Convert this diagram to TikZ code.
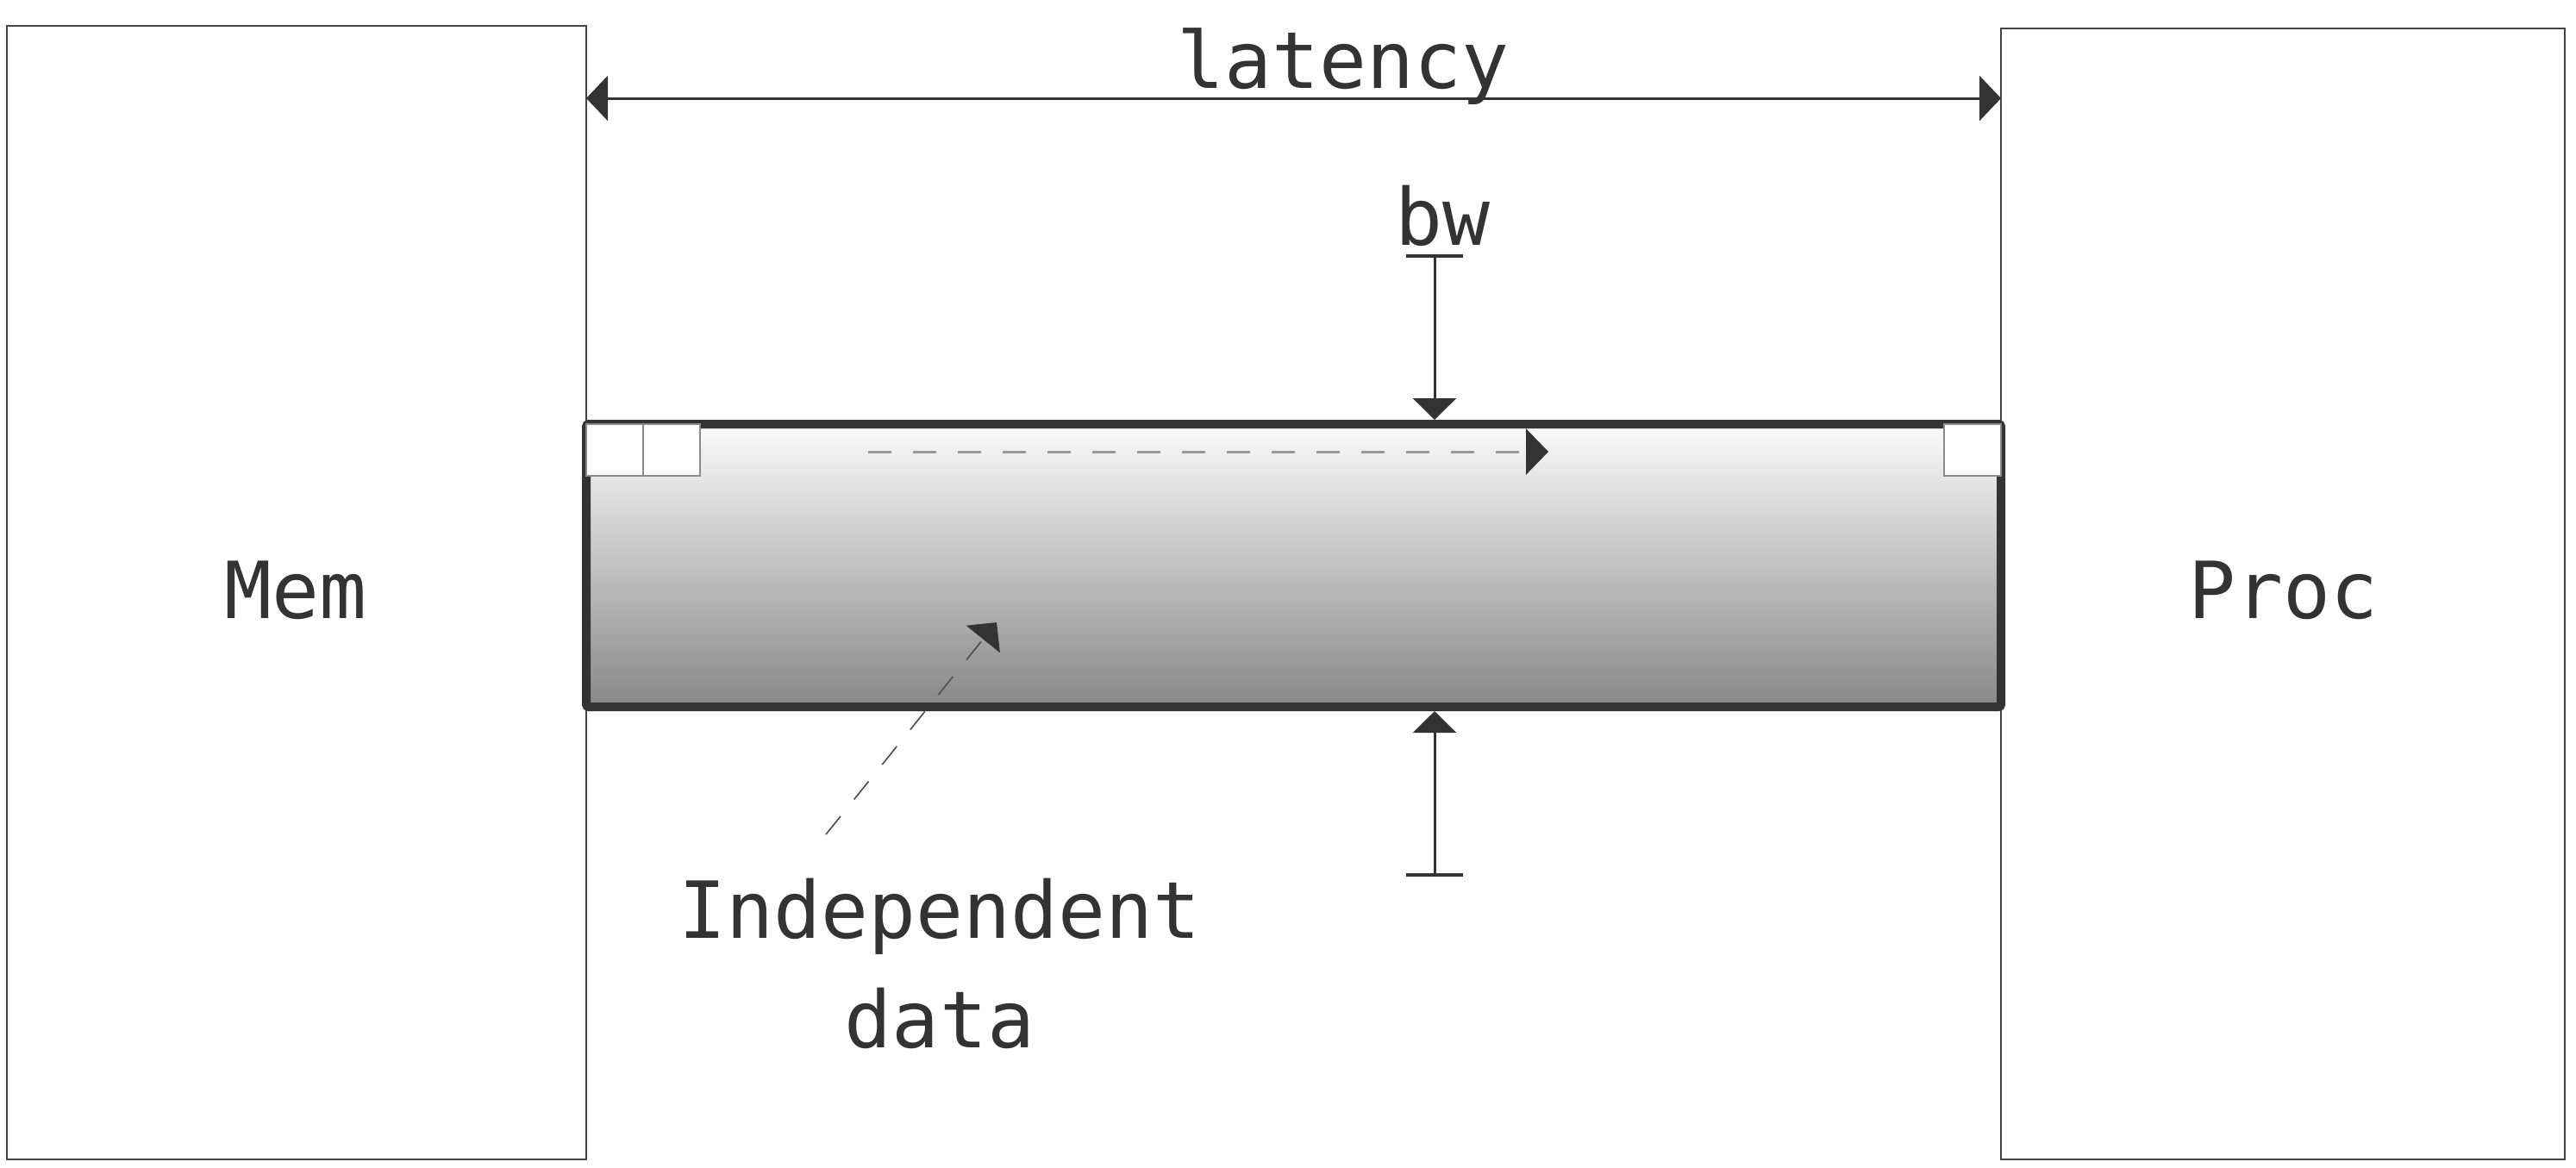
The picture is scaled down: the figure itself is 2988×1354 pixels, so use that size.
\documentclass[tikz,border=0pt]{standalone}
\usepackage{fontspec}
\setmonofont{DejaVu Sans Mono}
\usetikzlibrary{arrows.meta}
\definecolor{ink}{HTML}{333333}
\definecolor{boxline}{HTML}{444444}
\definecolor{cellline}{HTML}{8A8A8A}
\definecolor{dashgray}{HTML}{999999}
\definecolor{bandtop}{HTML}{FBFBFB}
\definecolor{bandbot}{HTML}{888888}
\tikzset{
  unitbox/.style={draw=boxline, line width=0.28mm, fill=white, inner sep=0pt, outer sep=0pt},
  cellbox/.style={draw=cellline, line width=0.22mm, fill=white, inner sep=0pt, outer sep=0pt,
    minimum width=6.6mm, minimum height=6.0mm},
  lbl/.style={text=ink, font=\ttfamily\fontsize{26}{31}\selectfont, inner sep=0pt, anchor=base},
  headtri/.tip={Triangle[length=2.5mm, width=5mm, color=ink]},
  capbar/.tip={Bar[width=6.6mm, color=ink, line width=0.4mm]},
  dimline/.style={draw=ink, line width=0.3mm},
}
\begin{document}
\begin{tikzpicture}[x=0.1mm, y=-0.1mm]
\useasboundingbox (0,0) rectangle (2988,1354);
% boxes
\node[unitbox, minimum width=67.2mm, minimum height=131.5mm] (mem) at (344,687.5) {};
\node[unitbox, minimum width=65.4mm, minimum height=131.2mm] (proc) at (2648,689) {};
\node[lbl] (memtext) at (343,717) {Mem};
\node[lbl] (proctext) at (2648,717) {Proc};
% band
\node[draw=ink, line width=1mm, rounded corners=0.3mm, top color=bandtop, bottom color=bandbot,
  minimum width=164.1mm, minimum height=32.8mm, inner sep=0pt] (band) at (1500.5,656) {};
\node[cellbox] (cell1) at (713,522) {};
\node[cellbox] (cell2) at (779,522) {};
\node[cellbox] (cell3) at (2288,522) {};
% latency
\coordinate (laty) at (0,114);
\draw[dimline, {Triangle[length=2.5mm, width=5.2mm]}-{Triangle[length=2.5mm, width=5.2mm]}]
  (mem.east |- laty) -- (proc.west |- laty);
\node[lbl] (lattext) at (1558,102) {latency};
% bw
\node[lbl] (bwtext) at (1673,284) {bw};
\coordinate (bwa) at (1664,295);
\coordinate (bwb) at (1664,1017);
\draw[dimline, capbar-headtri] (bwa) -- (band.north -| bwa);
\draw[dimline, capbar-headtri] (bwb) -- (band.south -| bwb);
% flow arrow
\coordinate (flowa) at (1007,524);
\coordinate (flowb) at (1796,524);
\draw[draw=dashgray, line width=0.3mm, dash pattern=on 2.7mm off 2.5mm, -{Triangle[length=2.6mm, width=5.3mm, color=ink]}]
  (flowa) -- (flowb);
% independent data
\node[lbl] (indep1) at (1090,1088) {Independent};
\node[lbl] (indep2) at (1090,1215) {data};
\coordinate (diaga) at (958,968);
\coordinate (diagb) at (1156,722);
\draw[draw=ink!85, line width=0.17mm, dash pattern=on 2.7mm off 2.5mm, -headtri] (diaga) -- (diagb);
\end{tikzpicture}
\end{document}
